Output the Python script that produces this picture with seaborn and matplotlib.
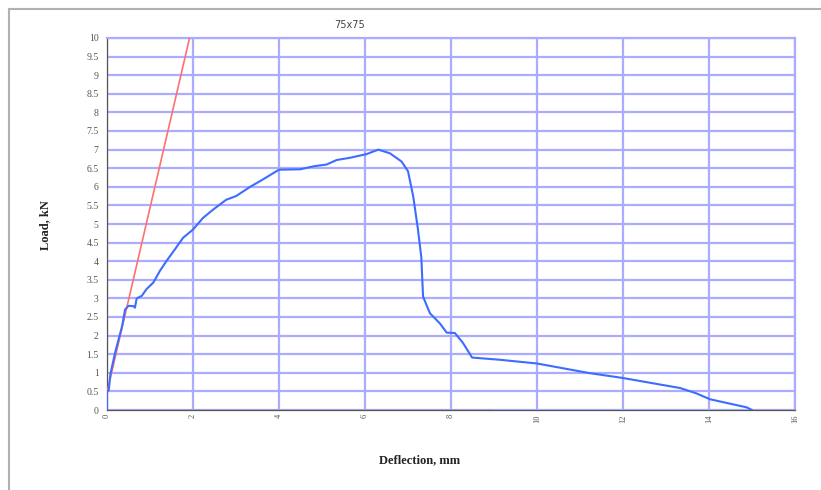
import matplotlib
matplotlib.use("Agg")
import matplotlib.pyplot as plt
import seaborn as sns
import pandas as pd
from matplotlib.ticker import MultipleLocator
from matplotlib.patches import Rectangle

# ---- data ----
blue_x = [0.0, 0.0, 0.04, 0.08, 0.19, 0.35, 0.42, 0.50, 0.62, 0.65, 0.69, 0.81, 0.92,
          1.08, 1.23, 1.38, 1.58, 1.77, 2.00, 2.23, 2.46, 2.77, 3.00, 3.33, 3.60,
          4.00, 4.49, 4.80, 5.11, 5.34, 5.65, 6.04, 6.31, 6.58, 6.85, 7.00, 7.12,
          7.23, 7.31, 7.35, 7.51, 7.74, 7.90, 8.09, 8.28, 8.49, 9.14, 10.0, 11.23,
          12.0, 13.33, 13.7, 14.02, 14.88, 15.0]
blue_y = [0.0, 0.50, 0.53, 0.97, 1.55, 2.25, 2.70, 2.80, 2.79, 2.75, 3.00, 3.07, 3.25,
          3.43, 3.74, 4.00, 4.32, 4.63, 4.85, 5.16, 5.38, 5.65, 5.75, 6.00, 6.18,
          6.46, 6.47, 6.55, 6.60, 6.72, 6.78, 6.88, 7.00, 6.90, 6.68, 6.42, 5.75,
          4.87, 4.10, 3.05, 2.60, 2.33, 2.08, 2.07, 1.80, 1.41, 1.35, 1.25, 0.99,
          0.86, 0.59, 0.45, 0.29, 0.07, 0.0]
red_x = [0.0, 1.92]
red_y = [0.47, 10.0]
base_x = [8.98, 14.95]
base_y = [0.0, 0.0]

x_ticks = list(range(0, 17, 2))
y_ticks = [0, 0.5, 1, 1.5, 2, 2.5, 3, 3.5, 4, 4.5, 5, 5.5, 6, 6.5, 7, 7.5, 8, 8.5, 9, 9.5, 10]
y_tick_labels = ["0", "0.5", "1", "1.5", "2", "2.5", "3", "3.5", "4", "4.5", "5",
                 "5.5", "6", "6.5", "7", "7.5", "8", "8.5", "9", "9.5", "10"]

sns.set_style("white")
plt.rcParams['font.family'] = ['Liberation Serif', 'DejaVu Serif']

W, H = 821, 490
fig = plt.figure(figsize=(W / 100, H / 100), dpi=100)
ax = fig.add_axes([107 / W, (H - 410) / H, 688 / W, 372 / H])

grid_col = (0.67, 0.67, 1.0)

blue_df = pd.DataFrame({"x": blue_x, "y": blue_y})
red_df = pd.DataFrame({"x": red_x, "y": red_y})
base_df = pd.DataFrame({"x": base_x, "y": base_y})

sns.lineplot(data=base_df, x="x", y="y", ax=ax, color=(0.6, 0.7, 1.0), lw=1.2,
             sort=False, estimator=None, zorder=3)
sns.lineplot(data=red_df, x="x", y="y", ax=ax, color="#ff7070", lw=1.2,
             sort=False, estimator=None, zorder=4)
sns.lineplot(data=blue_df, x="x", y="y", ax=ax, color="#3d6cff", lw=1.5,
             sort=False, estimator=None, zorder=5)

ax.set_xlim(0, 16)
ax.set_ylim(0, 10)
ax.set_xticks(x_ticks)
ax.set_xticklabels([str(t) for t in x_ticks], rotation=90, fontsize=6, color="#555555")
ax.set_yticks(y_ticks)
ax.set_yticklabels(y_tick_labels, fontsize=7, color="#555555")
ax.xaxis.set_minor_locator(MultipleLocator(0.2))
ax.yaxis.set_minor_locator(MultipleLocator(0.1))
ax.tick_params(axis="both", which="major", length=3, width=0.8, color="#444444", pad=3)
ax.tick_params(axis="x", which="minor", length=2.5, width=0.6, color="#555555", direction="in")
ax.tick_params(axis="y", which="minor", length=2, width=0.6, color="#555555", direction="out")
ax.tick_params(axis="x", which="major", direction="in")

ax.grid(True, which="major", color=grid_col, lw=1.6)
ax.set_axisbelow(True)
for s in ["top", "right"]:
    ax.spines[s].set_color(grid_col)
    ax.spines[s].set_linewidth(1.6)
for s in ["left", "bottom"]:
    ax.spines[s].set_color("#555555")
    ax.spines[s].set_linewidth(0.9)

ax.set_xlabel("")
ax.set_ylabel("")
fig.text(420 / W, 1 - 460 / H, "Deflection, mm", ha="center", va="center",
         fontsize=9, fontweight="bold", color="#222222")
fig.text(45 / W, 1 - 225 / H, "Load, kN", ha="center", va="center", rotation=90,
         fontsize=9, fontweight="bold", color="#222222")
fig.text(350 / W, 1 - 25 / H, "75x75", ha="center", va="center", fontsize=7,
         color="#444444", family=["DejaVu Sans"])

# figure frame
fig.patches.append(Rectangle((9 / W, -0.05), 1.1, 1 - 9 / H + 0.05, transform=fig.transFigure,
                             fill=False, edgecolor="#b0b0b0", lw=1.5, zorder=0))

fig.savefig("out.png", dpi=100)
